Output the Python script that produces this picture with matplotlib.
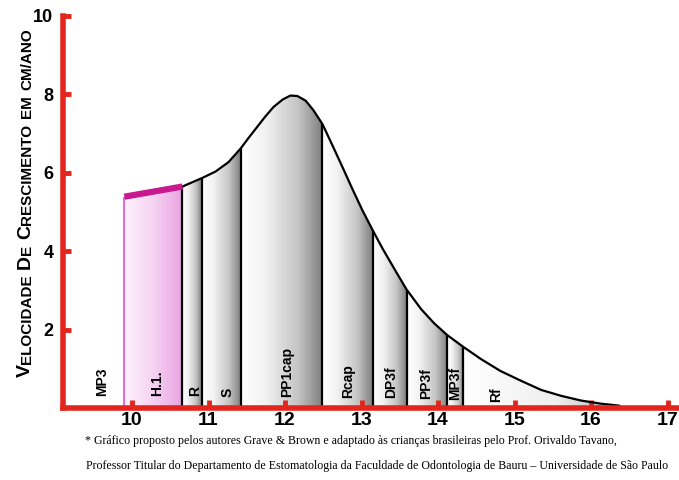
import numpy as np
import matplotlib
matplotlib.use("Agg")
import matplotlib.pyplot as plt
from matplotlib.colors import LinearSegmentedColormap
from matplotlib.patches import Polygon

plt.rcParams["font.family"] = ["Liberation Sans", "DejaVu Sans"]

# growth velocity curve (age in years, cm/year)
AGES = [9.90, 10.28, 10.66, 10.73, 10.92, 11.09, 11.26, 11.42, 11.52, 11.64,
        11.74, 11.85, 11.97, 12.07, 12.16, 12.27, 12.37, 12.49, 12.62, 12.75,
        12.88, 13.01, 13.15, 13.28, 13.45, 13.59, 13.78, 13.95, 14.12, 14.33,
        14.56, 14.82, 15.09, 15.35, 15.61, 15.87, 16.13, 16.37]
VELOC = [5.39, 5.52, 5.65, 5.71, 5.87, 6.03, 6.27, 6.62, 6.88, 7.18,
         7.43, 7.68, 7.87, 7.97, 7.96, 7.84, 7.60, 7.24, 6.70, 6.15,
         5.59, 5.05, 4.52, 4.05, 3.48, 3.02, 2.52, 2.16, 1.86, 1.56,
         1.25, 0.94, 0.69, 0.46, 0.31, 0.19, 0.11, 0.06]

# stage boundaries (ages)
DIVIDERS = [9.90, 10.66, 10.92, 11.42, 12.49, 13.15, 13.59, 14.12, 14.33, 16.37]

# stage labels and where they sit
STAGES = ["MP3", "H.1.", "R", "S", "PP1cap", "Rcap", "DP3f", "PP3f", "MP3f", "Rf"]
STAGE_X = [9.61, 10.33, 10.83, 11.25, 12.03, 12.82, 13.39, 13.84, 14.23, 14.76]
STAGE_Y = [0.30, 0.30, 0.30, 0.28, 0.28, 0.25, 0.25, 0.22, 0.20, 0.15]

XTICKS = [10, 11, 12, 13, 14, 15, 16, 17]
YTICKS = [2, 4, 6, 8, 10]

RED = "#e3261d"
NOTE1 = ("* Gráfico proposto pelos autores Grave & Brown e adaptado às "
         "crianças brasileiras pelo Prof. Orivaldo Tavano,")
NOTE2 = ("Professor Titular do Departamento de Estomatologia da Faculdade de "
         "Odontologia de Bauru – Universidade de São Paulo")

grey_cm = LinearSegmentedColormap.from_list(
    "cyl", [(0, "#ffffff"), (0.3, "#f2f2f2"), (0.7, "#c4c4c4"), (1, "#7e7e7e")])
pink_cm = LinearSegmentedColormap.from_list(
    "pink", [(0, "#fdf3fc"), (0.5, "#f6d2f2"), (1, "#e9a2e2")])
tail_cm = LinearSegmentedColormap.from_list(
    "tail", [(0, "#ffffff"), (0.6, "#eeeeee"), (1, "#b4b4b4")])

ages = np.array(AGES)
vel = np.array(VELOC)

fig = plt.figure(figsize=(6.79, 4.8), dpi=100)
ax = fig.add_axes([63 / 679, 72 / 480, 616 / 679, 392 / 480])

# shaded cylinders, one per stage
grad = np.linspace(0, 1, 256).reshape(1, -1)
for i in range(len(DIVIDERS) - 1):
    a, b = DIVIDERS[i], DIVIDERS[i + 1]
    m = (ages >= a - 1e-9) & (ages <= b + 1e-9)
    verts = [(a, 0)] + list(zip(ages[m], vel[m])) + [(b, 0)]
    clip = Polygon(verts, closed=True, transform=ax.transData)
    cm = pink_cm if i == 0 else (tail_cm if i == len(DIVIDERS) - 2 else grey_cm)
    im = ax.imshow(grad, extent=[a, b, 0, vel[m].max()], aspect="auto",
                   cmap=cm, interpolation="bicubic", zorder=1)
    im.set_clip_path(clip)

# outline
hi = ages >= DIVIDERS[1] - 1e-9
ax.plot(ages[hi], vel[hi], color="black", lw=1.6, zorder=3,
        solid_capstyle="round", solid_joinstyle="round")
lo = ages <= DIVIDERS[1] + 1e-9
ax.plot(ages[lo], vel[lo], color="#c8198f", lw=4.5, zorder=4,
        solid_capstyle="butt")
ax.vlines(DIVIDERS[0], 0, vel[0], color="#e070d4", lw=1.5, zorder=3)
for d in DIVIDERS[1:-1]:
    ax.vlines(d, 0, np.interp(d, ages, vel), color="black", lw=1.6, zorder=3)

for s, x, y in zip(STAGES, STAGE_X, STAGE_Y):
    ax.text(x, y, s, rotation=90, ha="center", va="bottom",
            fontsize=10, fontweight="bold", zorder=5)

ax.set_xlim(9.098, 17.15)
ax.set_ylim(0, 10)
ax.set_xticks(XTICKS)
ax.set_yticks(YTICKS)
ax.tick_params(axis="both", direction="in", color=RED, length=5.5, width=3.5,
               labelsize=14)
ax.tick_params(axis="x", pad=3)
ax.tick_params(axis="y", pad=7, labelsize=13)
for lab in ax.get_xticklabels() + ax.get_yticklabels():
    lab.set_fontweight("bold")
for side in ("top", "right"):
    ax.spines[side].set_visible(False)
for side in ("left", "bottom"):
    ax.spines[side].set_color(RED)
    ax.spines[side].set_linewidth(4)
    ax.spines[side].set_zorder(6)

# y label in small caps, built from chained pieces
pieces = [("V", 14, 0), ("ELOCIDADE", 11, 0), ("D", 14, 4), ("E", 11, 0),
          ("C", 14, 4), ("RESCIMENTO", 11, 0), ("EM", 11, 4),
          ("CM/ANO", 11, 4)]
prev = fig.text(34 / 679, 103 / 480, pieces[0][0], rotation=90, ha="right",
                va="bottom", fontsize=pieces[0][1], fontweight="bold")
for txt, size, gap in pieces[1:]:
    prev = ax.annotate(txt, xy=(1, 1), xycoords=prev, xytext=(0, gap),
                       textcoords="offset points", rotation=90, ha="right",
                       va="bottom", fontsize=size, fontweight="bold",
                       annotation_clip=False)

fig.text(85 / 679, 1 - 441 / 480, NOTE1, family="Liberation Serif",
         fontsize=8.6, va="center", ha="left")
fig.text(86 / 679, 1 - 466 / 480, NOTE2, family="Liberation Serif",
         fontsize=8.6, va="center", ha="left")

fig.savefig("out.png", dpi=100)
